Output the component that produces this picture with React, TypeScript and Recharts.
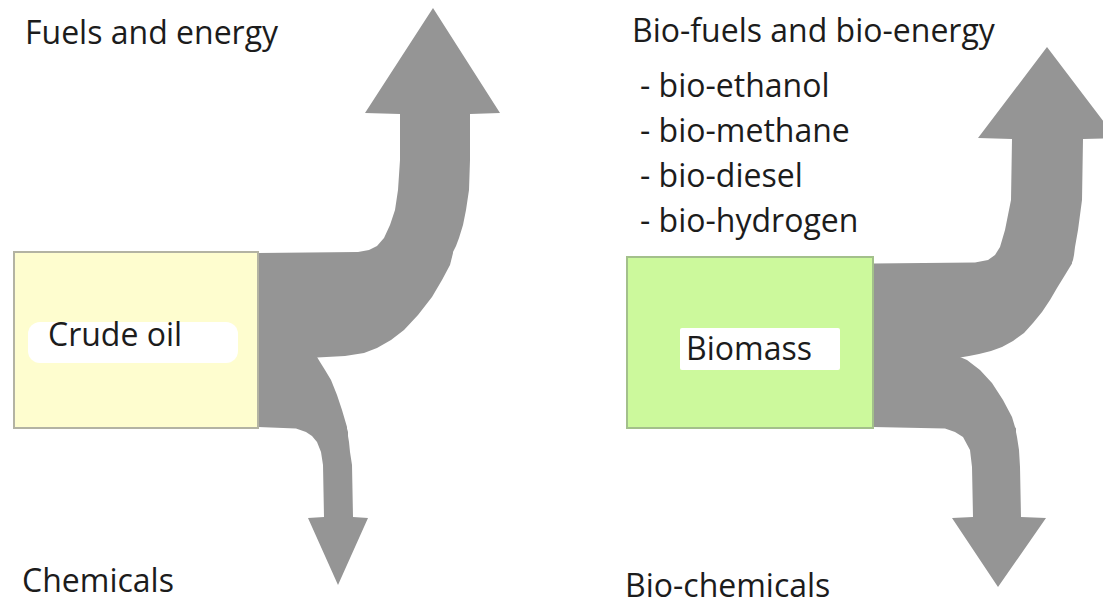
import { Area, ComposedChart, ReferenceArea, ReferenceDot, XAxis, YAxis } from "recharts"

// every outline row is [y, left edge, right edge] in picture units
const crudeToFuels: [number, number, number][] = [
  [8, 433, 433],
  [113, 365, 500],
  [114, 400, 470],
  [160, 400, 470],
  [190, 398, 469],
  [210, 395, 466],
  [225, 390, 463],
  [238, 384, 459],
  [246, 377, 456],
  [250, 369, 454],
  [252, 358, 453],
  [253, 258, 453],
  [265, 258, 450],
  [280, 258, 442],
  [297, 258, 432],
  [315, 258, 418],
  [330, 258, 404],
  [340, 258, 391],
  [348, 258, 377],
  [353, 258, 364],
  [356, 258, 345],
  [357.5, 258, 317],
]

const crudeToChemicals: [number, number, number][] = [
  [357, 258, 317],
  [362, 258, 320],
  [370, 258, 325],
  [380, 258, 331],
  [395, 258, 337],
  [410, 258, 342],
  [427, 258, 347],
  [428.5, 296, 347],
  [432, 306, 348],
  [436, 312, 348],
  [442, 317, 349],
  [452, 321, 350],
  [465, 323, 352],
  [517, 324, 353],
  [518, 308, 368],
  [585, 338, 338],
]

const biomassToBiofuels: [number, number, number][] = [
  [47, 1047, 1047],
  [138, 978, 1116],
  [139, 1012, 1083],
  [200, 1011, 1082],
  [230, 1005, 1078],
  [247, 1000, 1075],
  [255, 995, 1074],
  [260, 988, 1073],
  [262.5, 975, 1072],
  [263.5, 873, 1072],
  [275, 873, 1065],
  [288, 873, 1057],
  [300, 873, 1050],
  [312, 873, 1042],
  [323, 873, 1033],
  [333, 873, 1024],
  [341, 873, 1013],
  [347, 873, 1002],
  [351, 873, 991],
  [354, 873, 979],
  [356, 873, 969],
  [357.5, 873, 960],
]

const biomassToBiochemicals: [number, number, number][] = [
  [357, 873, 960],
  [360, 873, 967],
  [370, 873, 980],
  [383, 873, 992],
  [400, 873, 1003],
  [417, 873, 1012],
  [427, 873, 1015],
  [428.5, 945, 1016],
  [432, 955, 1016],
  [437, 963, 1017],
  [450, 970, 1019],
  [467, 972, 1020],
  [517, 973, 1021],
  [518, 952, 1046],
  [587, 998, 998],
]

const flowKeys = ["crudeToFuels", "crudeToChemicals", "biomassToBiofuels", "biomassToBiochemicals"]
const flowOutlines = [crudeToFuels, crudeToChemicals, biomassToBiofuels, biomassToBiochemicals]

const nodeNames = ["Crude oil", "Biomass"]
const nodeX = [[14, 258], [627, 873]]
const nodeY = [[252, 428], [257, 428]]
const nodeLabelX = [48, 686]
const nodeLabelY = [346, 360]
const nodePatchX = [[28, 238], [680, 840]]
const nodePatchY = [[322, 363], [328, 370]]

const productLabels = ["Fuels and energy", "Chemicals", "Bio-fuels and bio-energy", "Bio-chemicals"]
const productLabelX = [25, 22, 632, 625]
const productLabelY = [44, 592, 42, 597]

const biofuelItems = ["- bio-ethanol", "- bio-methane", "- bio-diesel", "- bio-hydrogen"]
const biofuelItemY = [97, 142, 187, 232]
const biofuelItemX = 640

const nodeFills = ["#fefdcf", "#ccf99c"]
const nodeStrokes = ["#b3b3a3", "#a3c08b"]
const FLOW = "#959595"
const INK = "#1c1c1c"
const FONT = "'Open Sans', sans-serif"

// one row per outline point, the other flows get [null, null] so they skip it
const table = flowKeys
  .flatMap((key, i) => flowOutlines[i].map(([y, lo, hi]) => ({ key, y, lo, hi })))
  .sort((a, b) => a.y - b.y)
  .map((r) => {
    const row: any = { y: r.y }
    flowKeys.forEach((k) => {
      row[k] = k === r.key ? [r.lo, r.hi] : [null, null]
    })
    return row
  })

const textShape = (text: string) => (props: any) => (
  <text x={props.cx} y={props.cy} fill={INK} fontSize={32} fontFamily={FONT}>
    {text}
  </text>
)

const App = () => {
  return (
    <div style={{ position: "absolute", left: 0, top: 0, background: "#fff" }}>
      <ComposedChart
        width={1103}
        height={605}
        data={table}
        layout="vertical"
        margin={{ top: 0, right: 0, bottom: 0, left: 0 }}
      >
        <XAxis type="number" domain={[0, 1103]} allowDataOverflow hide />
        <YAxis type="number" dataKey="y" domain={[0, 605]} allowDataOverflow hide />
        {flowKeys.map((k) => (
          <Area
            key={k}
            dataKey={k}
            type="linear"
            fill={FLOW}
            fillOpacity={1}
            stroke="none"
            connectNulls
            dot={false}
            activeDot={false}
            isAnimationActive={false}
          />
        ))}
        {nodeNames.map((n, i) => (
          <ReferenceArea
            key={n}
            x1={nodeX[i][0]}
            x2={nodeX[i][1]}
            y1={nodeY[i][0]}
            y2={nodeY[i][1]}
            fill={nodeFills[i]}
            fillOpacity={1}
            stroke={nodeStrokes[i]}
            strokeWidth={2}
          />
        ))}
        {nodeNames.map((n, i) => (
          <ReferenceArea
            key={n + "-patch"}
            x1={nodePatchX[i][0]}
            x2={nodePatchX[i][1]}
            y1={nodePatchY[i][0]}
            y2={nodePatchY[i][1]}
            fill="#ffffff"
            fillOpacity={1}
            stroke="none"
            radius={i === 0 ? 12 : 2}
          />
        ))}
        {nodeNames.map((n, i) => (
          <ReferenceDot key={n + "-label"} x={nodeLabelX[i]} y={nodeLabelY[i]} r={0} shape={textShape(n)} />
        ))}
        {productLabels.map((t, i) => (
          <ReferenceDot key={t} x={productLabelX[i]} y={productLabelY[i]} r={0} shape={textShape(t)} />
        ))}
        {biofuelItems.map((t, i) => (
          <ReferenceDot key={t} x={biofuelItemX} y={biofuelItemY[i]} r={0} shape={textShape(t)} />
        ))}
      </ComposedChart>
    </div>
  )
}

export default App
